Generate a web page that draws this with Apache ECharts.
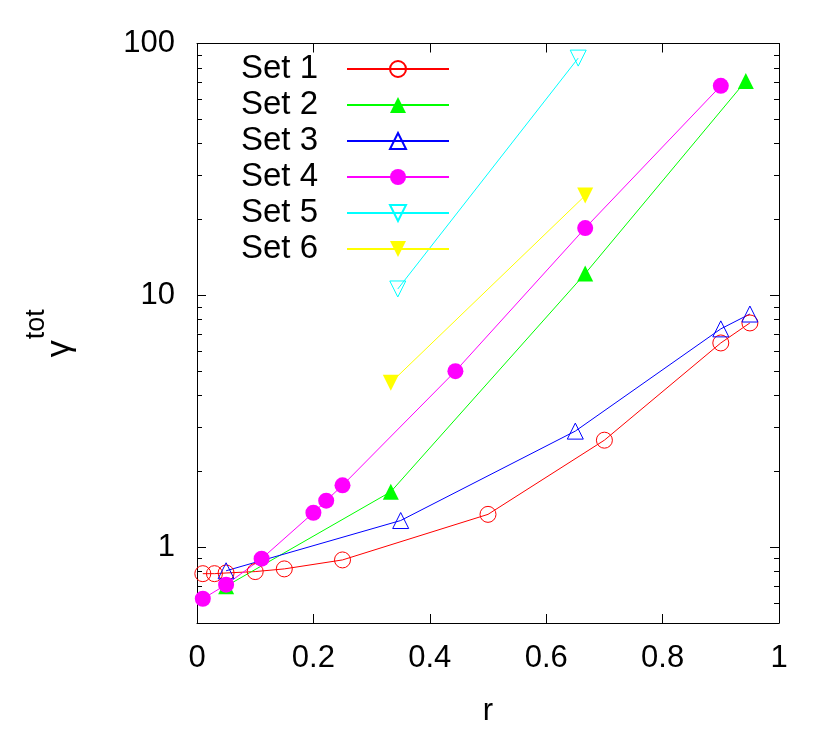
<!DOCTYPE html>
<html>
<head>
<meta charset="utf-8">
<script src="https://cdn.jsdelivr.net/npm/echarts@6/dist/echarts.min.js"></script>
<style>
html,body{margin:0;padding:0;background:#fff;}
#myChart{width:830px;height:738px;}
</style>
</head>
<body>
<div id="myChart"></div>
<script>
// data
var set1R = [0.01, 0.03, 0.05, 0.1, 0.15, 0.25, 0.5, 0.7, 0.9, 0.95];
var set1Y = [0.785, 0.785, 0.79, 0.80, 0.82, 0.89, 1.35, 2.66, 6.47, 7.77];
var set2R = [0.05, 0.333, 0.667, 0.943];
var set2Y = [0.70, 1.66, 12.2, 71];
var set3R = [0.05, 0.35, 0.65, 0.9, 0.95];
var set3Y = [0.806, 1.276, 2.89, 7.36, 8.43];
var set4R = [0.01, 0.05, 0.111, 0.2, 0.222, 0.25, 0.444, 0.667, 0.9];
var set4Y = [0.624, 0.71, 0.90, 1.37, 1.53, 1.76, 5.0, 18.5, 67.9];
var set5R = [0.345, 0.655];
var set5Y = [10.6, 87.5];
var set6R = [0.333, 0.667];
var set6Y = [4.5, 24.9];

var setNames = ['Set 1', 'Set 2', 'Set 3', 'Set 4', 'Set 5', 'Set 6'];
var yMajor = [1, 10, 100];
var yMinor = [0.6, 0.7, 0.8, 0.9, 2, 3, 4, 5, 6, 7, 8, 9, 20, 30, 40, 50, 60, 70, 80, 90];

var FONT = 'Liberation Sans';

function pairs(xs, ys){
    var out = [];
    for(var i=0;i<xs.length;i++){
        out.push([xs[i], ys[i]]);
    }
    return out;
}

function makeSeries(name, xs, ys, color, symbol, filled, rotate){
    return {
        name: name,
        type: 'line',
        xAxisIndex: 0,
        yAxisIndex: 0,
        data: pairs(xs, ys),
        symbol: symbol,
        symbolSize: 16,
        symbolRotate: rotate || 0,
        showAllSymbol: true,
        animation: false,
        lineStyle: {color: color, width: 1},
        itemStyle: filled ? {color: color} : {color: 'rgba(255,255,255,0)', borderColor: color, borderWidth: 1}
    };
}

function yAxisBase(pos, ticks, len, showLine){
    return {
        type: 'log',
        logBase: 10,
        min: 0.5,
        max: 100,
        position: pos,
        axisLine: {show: showLine, lineStyle: {color: '#000', width: 1}},
        axisTick: {show: true, inside: true, length: len, customValues: ticks, lineStyle: {color: '#000', width: 1}},
        axisLabel: {show: false},
        splitLine: {show: false},
        minorTick: {show: false}
    };
}

var myChart = echarts.init(document.getElementById('myChart'));

var leftMajor = yAxisBase('left', yMajor, 9, true);
leftMajor.axisLabel = {
    show: true,
    customValues: yMajor,
    fontSize: 31,
    fontFamily: FONT,
    color: '#000',
    margin: 22
};
// gamma with "tot" raised above it
leftMajor.name = '{g|γ}{s|tot}';
leftMajor.nameLocation = 'middle';
leftMajor.nameRotate = 90;
leftMajor.nameGap = 120;
leftMajor.nameMoveOverlap = false;
leftMajor.nameTextStyle = {
    color: '#000',
    fontFamily: FONT,
    rich: {
        g: {fontSize: 34, fontFamily: FONT, color: '#000', verticalAlign: 'bottom', padding: [20, 1, 0, 0]},
        s: {fontSize: 27, fontFamily: FONT, color: '#000', verticalAlign: 'top'}
    }
};

var option = {
    backgroundColor: '#fff',
    animation: false,
    grid: {left: 197, right: 51, top: 43.5, bottom: 115, containLabel: false},
    legend: {
        data: setNames,
        orient: 'vertical',
        right: 380,
        top: 51,
        padding: 0,
        align: 'right',
        itemWidth: 102,
        itemHeight: 20,
        itemGap: 0,
        selectedMode: false,
        textStyle: {fontSize: 33, fontFamily: FONT, color: '#000', lineHeight: 36, padding: [0, 24, 0, 0]}
    },
    xAxis: [
        {
            type: 'value',
            min: 0,
            max: 1,
            interval: 0.2,
            position: 'bottom',
            axisLine: {show: true, onZero: false, lineStyle: {color: '#000', width: 1}},
            axisTick: {show: true, inside: true, length: 9, lineStyle: {color: '#000', width: 1}},
            axisLabel: {fontSize: 31, fontFamily: FONT, color: '#000', margin: 20},
            splitLine: {show: false},
            name: 'r',
            nameLocation: 'middle',
            nameGap: 73,
            nameMoveOverlap: false,
            nameTextStyle: {fontSize: 31, fontFamily: FONT, color: '#000'}
        },
        {
            type: 'value',
            min: 0,
            max: 1,
            interval: 0.2,
            position: 'top',
            axisLine: {show: true, onZero: false, lineStyle: {color: '#000', width: 1}},
            axisTick: {show: true, inside: true, length: 9, lineStyle: {color: '#000', width: 1}},
            axisLabel: {show: false},
            splitLine: {show: false}
        }
    ],
    yAxis: [
        leftMajor,
        yAxisBase('left', yMinor, 5, false),
        yAxisBase('right', yMajor, 9, true),
        yAxisBase('right', yMinor, 5, false)
    ],
    series: [
        makeSeries(setNames[0], set1R, set1Y, '#ff0000', 'circle', false),
        makeSeries(setNames[1], set2R, set2Y, '#00ff00', 'triangle', true),
        makeSeries(setNames[2], set3R, set3Y, '#0000ff', 'triangle', false),
        makeSeries(setNames[3], set4R, set4Y, '#ff00ff', 'circle', true),
        makeSeries(setNames[4], set5R, set5Y, '#00ffff', 'triangle', false, 180),
        makeSeries(setNames[5], set6R, set6Y, '#ffff00', 'triangle', true, 180)
    ]
};

myChart.setOption(option);
</script>
</body>
</html>
